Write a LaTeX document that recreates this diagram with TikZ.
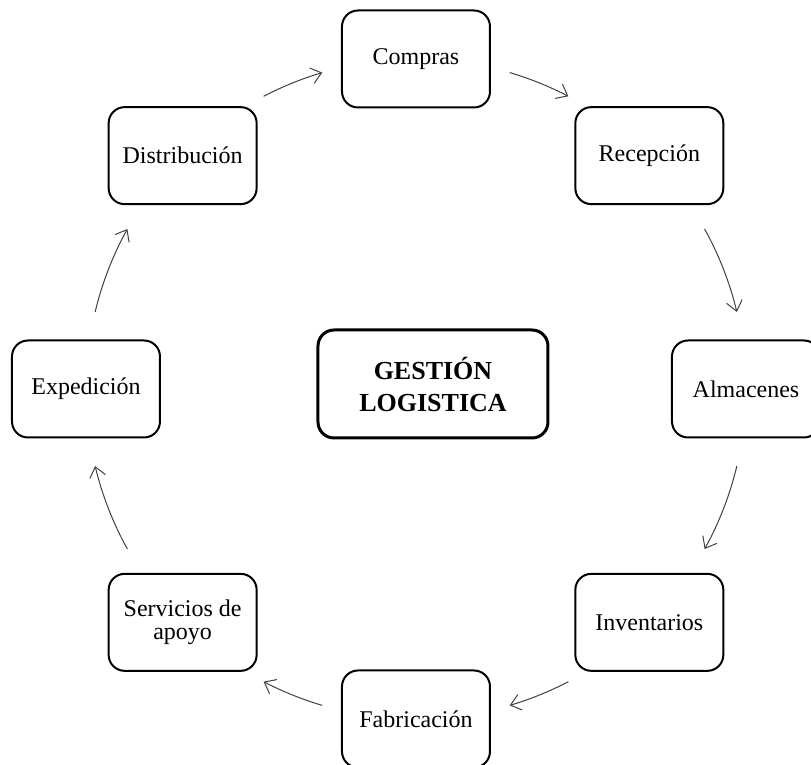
\documentclass[tikz,border=0pt]{standalone}
\usepackage{fontspec}
\setmainfont{Liberation Serif}
\usetikzlibrary{arrows.meta}

\tikzset{
  caja/.style={draw, line width=1pt, rounded corners=8pt, minimum width=74pt,
    minimum height=48.5pt, align=center, font=\fontsize{12}{11.5}\selectfont},
  caja central/.style={caja, line width=1.5pt, minimum width=115pt,
    minimum height=54pt, font=\fontsize{13}{16}\selectfont\bfseries},
  flecha/.style={draw=black!75, line width=0.5pt, -{Straight Barb[length=5pt,width=8pt]}}
}

\begin{document}
\begin{tikzpicture}
  \useasboundingbox (-208pt,-188pt) rectangle (197.5pt,194.5pt);
  % centro
  \node[caja central] (gestion) at (8.5pt,2.5pt) {GESTIÓN\\LOGISTICA};
  % etapas en circulo
  \node[caja] (compras) at (90:165pt) {Compras};
  \node[caja] (recepcion) at (45:165pt) {Recepción};
  \node[caja] (almacenes) at (0:165pt) {Almacenes};
  \node[caja] (inventarios) at (-45:165pt) {Inventarios};
  \node[caja] (fabricacion) at (-90:165pt) {Fabricación};
  \node[caja] (servicios) at (-135:165pt) {Servicios de\\apoyo};
  \node[caja] (expedicion) at (180:165pt) {Expedición};
  \node[caja] (distribucion) at (135:165pt) {Distribución};
  % flechas
  \foreach \ini/\fin [count=\i] in {117.5/106.5, 73.5/62.5, 29/13.5, -13.5/-29,
      -62.5/-73.5, -106.5/-117.5, -151/-166.5, 166.5/151}{
    \coordinate (ini\i) at (\ini:165pt);
    \draw[flecha] (ini\i) arc[start angle=\ini, end angle=\fin, radius=165pt];
  }
\end{tikzpicture}
\end{document}
